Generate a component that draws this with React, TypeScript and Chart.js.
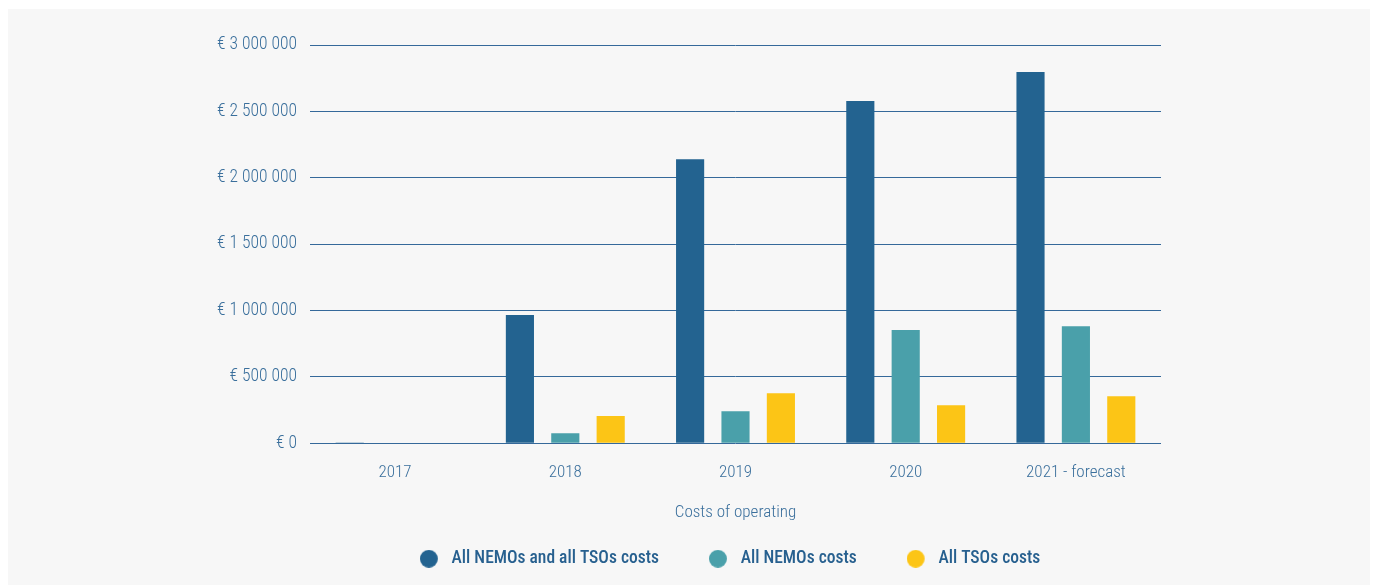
import React, { useEffect, useRef } from "react";
import { Chart, registerables } from "chart.js";

Chart.register(...registerables);

const categories = ["2017", "2018", "2019", "2020", "2021 - forecast"];
const seriesNames = ["All NEMOs and all TSOs costs", "All NEMOs costs", "All TSOs costs"];
const allCosts = [5000, 965000, 2140000, 2578000, 2796000];
const nemoCosts = [4000, 75000, 241000, 852000, 882000];
const tsoCosts = [4000, 204000, 377000, 286000, 354000];
const seriesColors = ["#236390", "#4aa0aa", "#fcc516"];
const yTickValues = [0, 500000, 1000000, 1500000, 2000000, 2500000, 3000000];
const xAxisTitle = "Costs of operating";

const FONT = "'Roboto Condensed', 'Liberation Sans Narrow', 'DejaVu Sans Condensed', Roboto, sans-serif";
const TEXT = "#3a6f9c";

function fmt(v: number): string {
  if (v === 0) return "€ 0";
  const s = Math.round(v).toString().replace(/\B(?=(\d{3})+(?!\d))/g, " ");
  return "€ " + s;
}

function marker(color: string): HTMLCanvasElement {
  const c = document.createElement("canvas");
  c.width = 23;
  c.height = 18;
  const g = c.getContext("2d")!;
  g.fillStyle = color;
  g.beginPath();
  g.arc(9, 9, 9, 0, Math.PI * 2);
  g.fill();
  return c;
}

const legendShift = {
  id: "legendShift",
  afterLayout(chart: any) {
    const lg = chart.legend;
    if (!lg) return;
    lg.left = 291;
    lg.right = 1153;
    lg.width = 862;
  },
};

export default function App() {
  const ref = useRef<HTMLCanvasElement | null>(null);
  useEffect(() => {
    if (!ref.current) return;
    const chart = new Chart(ref.current, {
      type: "bar",
      data: {
        labels: categories,
        datasets: [allCosts, nemoCosts, tsoCosts].map((d, i) => ({
          label: seriesNames[i],
          data: d,
          backgroundColor: seriesColors[i],
          borderWidth: 0,
          categoryPercentage: 0.8,
          barPercentage: 0.62,
          pointStyle: marker(seriesColors[i]),
        })),
      },
      plugins: [legendShift],
      options: {
        animation: false,
        responsive: false,
        maintainAspectRatio: false,
        layout: { padding: { top: 36, right: 209, bottom: 7.5, left: 0 } },
        plugins: {
          tooltip: { enabled: false },
          legend: {
            position: "bottom",
            labels: {
              usePointStyle: true,
              pointStyleWidth: 23,
              boxHeight: 13,
              padding: 50,
              color: "#27608f",
              font: { family: FONT, size: 17.5, weight: "500" },
            },
          },
        },
        scales: {
          x: {
            grid: { display: false, drawTicks: false },
            border: { display: false },
            ticks: { color: TEXT, font: { family: FONT, size: 17, weight: "300" }, padding: 19 },
            title: {
              display: true,
              text: xAxisTitle,
              color: TEXT,
              font: { family: FONT, size: 17, weight: "300" },
              padding: { top: 1, bottom: -23 },
            },
          },
          y: {
            min: 0,
            max: 3000000,
            afterFit: (axis: any) => { axis.width = 302; },
            afterBuildTicks: (axis: any) => { axis.ticks = yTickValues.map((v) => ({ value: v })); },
            grid: { color: "#35699a", lineWidth: 1, drawTicks: false },
            border: { display: false },
            ticks: { color: TEXT, font: { family: FONT, size: 17.5, weight: "300" }, padding: 13, callback: (v: any) => fmt(Number(v)) },
          },
        },
      },
    });
    return () => chart.destroy();
  }, []);
  return (
    <div style={{ position: "fixed", left: 8, top: 9, width: 1362, height: 576, background: "#f7f7f7", overflow: "hidden" }}>
      <canvas ref={ref} width={1362} height={576} style={{ display: "block" }} />
    </div>
  );
}
